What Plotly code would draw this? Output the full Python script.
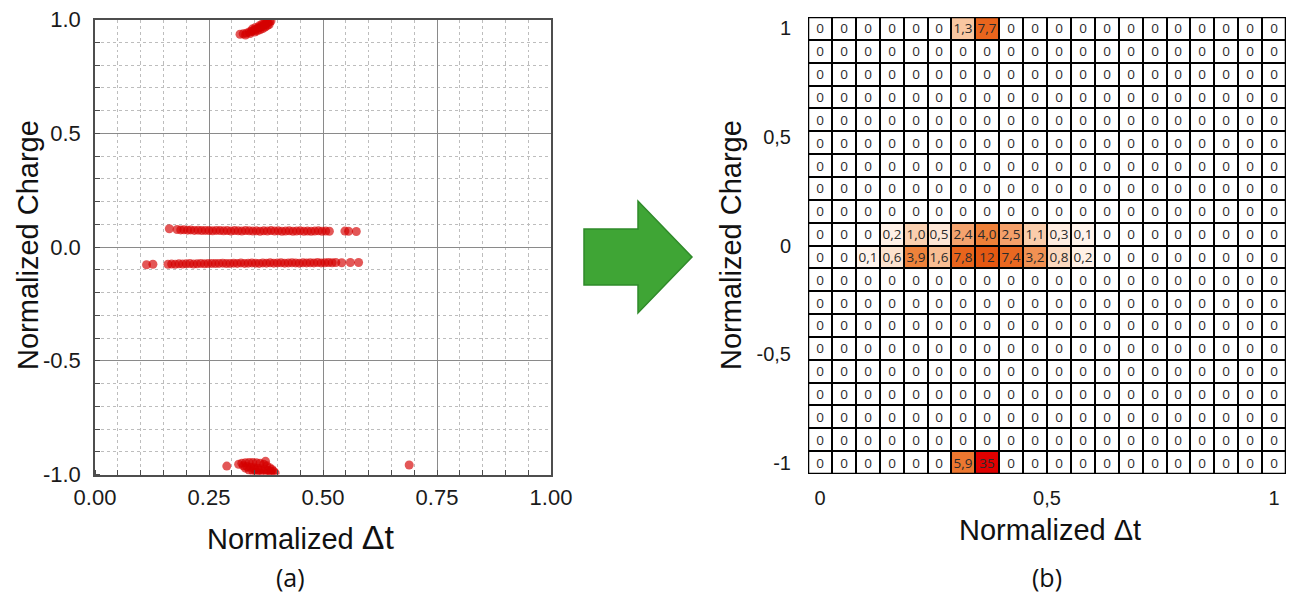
import numpy as np
import plotly.graph_objects as go

# ---------------- data: panel (a) scatter ----------------
top_dt = [0.318, 0.325, 0.332, 0.338, 0.343, 0.348, 0.353, 0.358, 0.362, 0.367, 0.371, 0.375, 0.379, 0.383, 0.386,
          0.340, 0.350, 0.356, 0.362, 0.368, 0.373, 0.378, 0.382, 0.345, 0.352, 0.360, 0.366, 0.372, 0.377, 0.330]
top_q = [0.935, 0.937, 0.940, 0.945, 0.948, 0.952, 0.957, 0.962, 0.966, 0.971, 0.976, 0.980, 0.985, 0.990, 0.993,
         0.938, 0.945, 0.950, 0.955, 0.960, 0.967, 0.973, 0.978, 0.958, 0.965, 0.972, 0.979, 0.985, 0.990, 0.932]

upper_dt = [0.163, 0.180, 0.188, 0.195, 0.203, 0.210, 0.218, 0.226, 0.234, 0.242, 0.250, 0.258, 0.266, 0.274,
            0.282, 0.290, 0.298, 0.306, 0.314, 0.322, 0.330, 0.338, 0.346, 0.354, 0.362, 0.370, 0.378, 0.386,
            0.394, 0.402, 0.410, 0.418, 0.426, 0.434, 0.442, 0.450, 0.458, 0.466, 0.474, 0.482, 0.490, 0.498,
            0.506, 0.514, 0.548, 0.556, 0.573]
upper_q = [0.080, 0.077, 0.075, 0.076, 0.074, 0.075, 0.073, 0.074, 0.072, 0.073, 0.072, 0.071, 0.073, 0.072,
           0.071, 0.072, 0.070, 0.072, 0.071, 0.070, 0.072, 0.071, 0.070, 0.071, 0.069, 0.071, 0.070, 0.072,
           0.070, 0.071, 0.069, 0.070, 0.071, 0.069, 0.070, 0.071, 0.069, 0.070, 0.069, 0.070, 0.071, 0.069,
           0.070, 0.069, 0.070, 0.069, 0.068]

lower_dt = [0.113, 0.127, 0.160, 0.168, 0.176, 0.184, 0.192, 0.200, 0.208, 0.216, 0.224, 0.232, 0.240,
            0.248, 0.256, 0.264, 0.272, 0.280, 0.288, 0.296, 0.304, 0.312, 0.320, 0.328, 0.336, 0.344,
            0.352, 0.360, 0.368, 0.376, 0.384, 0.392, 0.400, 0.408, 0.416, 0.424, 0.432, 0.440, 0.448,
            0.456, 0.464, 0.472, 0.480, 0.488, 0.496, 0.504, 0.512, 0.520, 0.528, 0.541, 0.560, 0.578]
lower_q = [-0.078, -0.076, -0.076, -0.075, -0.076, -0.074, -0.075, -0.074, -0.073, -0.075, -0.074, -0.072, -0.074,
           -0.073, -0.072, -0.073, -0.072, -0.071, -0.073, -0.072, -0.071, -0.072, -0.070, -0.072, -0.071, -0.070,
           -0.071, -0.072, -0.070, -0.071, -0.069, -0.071, -0.070, -0.069, -0.071, -0.070, -0.069, -0.070, -0.071,
           -0.069, -0.070, -0.069, -0.070, -0.068, -0.070, -0.069, -0.068, -0.069, -0.068, -0.069, -0.068, -0.068]

bottom_dt = [0.315, 0.322, 0.330, 0.338, 0.346, 0.354, 0.362, 0.370, 0.377, 0.383, 0.388, 0.392, 0.395,
             0.325, 0.333, 0.341, 0.349, 0.357, 0.365, 0.373, 0.380, 0.386, 0.338, 0.346, 0.354, 0.362,
             0.370, 0.378, 0.386, 0.350, 0.360, 0.330, 0.289, 0.374, 0.689]
bottom_q = [-0.955, -0.950, -0.948, -0.947, -0.947, -0.948, -0.950, -0.955, -0.962, -0.970, -0.978, -0.986, -0.993,
            -0.962, -0.965, -0.968, -0.970, -0.972, -0.975, -0.978, -0.982, -0.988, -0.980, -0.985, -0.990, -0.992,
            -0.995, -0.996, -0.997, -0.978, -0.982, -0.972, -0.963, -0.942, -0.958]

# ---------------- data: panel (b) heatmap ----------------
ZERO_ROW = [0] * 20
heat_rows = [
    [0, 0, 0, 0, 0, 0, 1.3, 7.7, 0, 0, 0, 0, 0, 0, 0, 0, 0, 0, 0, 0],
    ZERO_ROW, ZERO_ROW, ZERO_ROW, ZERO_ROW, ZERO_ROW, ZERO_ROW, ZERO_ROW, ZERO_ROW,
    [0, 0, 0, 0.2, 1.0, 0.5, 2.4, 4.0, 2.5, 1.1, 0.3, 0.1, 0, 0, 0, 0, 0, 0, 0, 0],
    [0, 0, 0.1, 0.6, 3.9, 1.6, 7.8, 12, 7.4, 3.2, 0.8, 0.2, 0, 0, 0, 0, 0, 0, 0, 0],
    ZERO_ROW, ZERO_ROW, ZERO_ROW, ZERO_ROW, ZERO_ROW, ZERO_ROW, ZERO_ROW, ZERO_ROW,
    [0, 0, 0, 0, 0, 0, 5.9, 35, 0, 0, 0, 0, 0, 0, 0, 0, 0, 0, 0, 0],
]
x_ticks_b = [0, 0.5, 1]
x_ticklabels_b = ["0", "0,5", "1"]
y_ticks_b = [-1, -0.5, 0, 0.5, 1]
y_ticklabels_b = ["-1", "-0,5", "0", "0,5", "1"]

x_ticks_a = [0, 0.25, 0.5, 0.75, 1]
x_ticklabels_a = ["0.00", "0.25", "0.50", "0.75", "1.00"]
y_ticks_a = [-1, -0.5, 0, 0.5, 1]
y_ticklabels_a = ["-1.0", "-0.5", "0.0", "0.5", "1.0"]


def fmt(v):
    if v == 0:
        return "0"
    if v >= 10:
        return str(int(v))
    return f"{v:.1f}".replace(".", ",")


heat_text = [[fmt(v) for v in row] for row in heat_rows]
n = len(heat_rows)
x_centers = np.linspace(0, 1, n)
y_centers = np.linspace(1, -1, n)

W, H = 1289, 595


def px(x):
    return x / W


def py(y):
    return 1 - y / H


fig = go.Figure()

red = "rgba(212,0,0,0.66)"
for xs, ys in [(top_dt, top_q), (upper_dt, upper_q), (lower_dt, lower_q), (bottom_dt, bottom_q)]:
    fig.add_trace(go.Scatter(x=xs, y=ys, mode="markers", xaxis="x", yaxis="y",
                             marker=dict(color=red, size=9, line=dict(width=0)),
                             showlegend=False, hoverinfo="skip"))

colorscale = [
    [0.0, "#ffffff"],
    [0.1 / 35, "#fff4ec"],
    [0.5 / 35, "#fde6d6"],
    [1.0 / 35, "#fad0b0"],
    [1.6 / 35, "#f8bd92"],
    [2.5 / 35, "#f4a06a"],
    [4.0 / 35, "#ee8038"],
    [6.0 / 35, "#ec7630"],
    [8.0 / 35, "#e8621a"],
    [12.0 / 35, "#e45812"],
    [1.0, "#e00000"],
]

fig.add_trace(go.Heatmap(
    z=heat_rows, x=x_centers, y=y_centers, text=heat_text, texttemplate="%{text}",
    textfont=dict(family="Open Sans, Liberation Sans, Arial", size=13.5, color="#2b2b2b"),
    colorscale=colorscale, zmin=0, zmax=35, showscale=False, xgap=2, ygap=2,
    xaxis="x2", yaxis="y2", hoverinfo="skip"))

dx = 0.5 / (n - 1)
dy = 1.0 / (n - 1)

axis_font_a = dict(family="Liberation Sans, Arial", size=22, color="#1a1a1a")
axis_font_b = dict(family="Liberation Sans, Arial", size=20, color="#1a1a1a")

fig.update_layout(
    width=W, height=H, margin=dict(l=0, r=0, t=0, b=0, autoexpand=False),
    paper_bgcolor="white", plot_bgcolor="white",
    xaxis=dict(domain=[px(95), px(551)], range=[0, 1], tickvals=x_ticks_a, ticktext=x_ticklabels_a,
               showgrid=True, gridcolor="#8a8a8a", gridwidth=1, zeroline=False,
               showline=True, linecolor="#4d4d4d", linewidth=1.5, mirror=True,
               ticks="", tickfont=axis_font_a, ticklabelstandoff=2, automargin=False,
               minor=dict(dtick=0.05, tick0=0, showgrid=True, griddash="dot", gridcolor="#bdbdbd",
                          gridwidth=1, ticks="inside", ticklen=5, tickcolor="#4d4d4d")),
    yaxis=dict(domain=[py(474.5), py(19.5)], range=[-1, 1], tickvals=y_ticks_a, ticktext=y_ticklabels_a,
               showgrid=True, gridcolor="#8a8a8a", gridwidth=1, zeroline=False,
               showline=True, linecolor="#4d4d4d", linewidth=1.5, mirror=True,
               ticks="", tickfont=axis_font_a, ticklabelstandoff=8, automargin=False,
               minor=dict(dtick=0.1, tick0=0, showgrid=True, griddash="dot", gridcolor="#bdbdbd",
                          gridwidth=1, ticks="inside", ticklen=5, tickcolor="#4d4d4d")),
    xaxis2=dict(domain=[px(808), px(1286)], range=[-dx, 1 + dx], tickvals=x_ticks_b, ticktext=x_ticklabels_b,
                showgrid=False, zeroline=False, showline=False, ticks="", tickfont=axis_font_b,
                ticklabelstandoff=10, anchor="y2", automargin=False),
    yaxis2=dict(domain=[py(474), py(17)], range=[-1 - dy, 1 + dy], tickvals=y_ticks_b, ticktext=y_ticklabels_b,
                showgrid=False, zeroline=False, showline=False, ticks="", tickfont=axis_font_b,
                ticklabelstandoff=16, anchor="x2", automargin=False),
)

# black background behind heatmap cells -> cell borders, plus thick outer frame
fig.add_shape(type="rect", xref="x2", yref="y2", x0=-dx, x1=1 + dx, y0=-1 - dy, y1=1 + dy,
              fillcolor="black", line=dict(width=0), layer="below")
fig.add_shape(type="rect", xref="x2", yref="y2", x0=-dx, x1=1 + dx, y0=-1 - dy, y1=1 + dy,
              fillcolor="rgba(0,0,0,0)", line=dict(color="black", width=2.5), layer="above")

# green arrow
arrow_px = [(584, 229), (638, 229), (638, 201), (692, 257), (638, 313), (638, 285), (584, 285)]
path = "M " + " L ".join(f"{px(x):.5f},{py(y):.5f}" for x, y in arrow_px) + " Z"
fig.add_shape(type="path", xref="paper", yref="paper", path=path,
              fillcolor="#3fa535", line=dict(color="#2f8a2a", width=1.5))

title_font = dict(family="Liberation Sans, Arial", size=29, color="#111111")
ann = [
    dict(x=px(28), y=py(245), text="Normalized Charge", textangle=-90, font=title_font),
    dict(x=px(300), y=py(537), text="Normalized <span style='font-size:34px'>Δt</span>", font=title_font),
    dict(x=px(290), y=py(577), text="(a)", font=dict(family="Open Sans, Liberation Sans", size=25, color="#111111")),
    dict(x=px(731), y=py(245), text="Normalized Charge", textangle=-90, font=title_font),
    dict(x=px(1050), y=py(530), text="Normalized Δt", font=title_font),
    dict(x=px(1047), y=py(577), text="(b)", font=dict(family="Open Sans, Liberation Sans", size=25, color="#111111")),
]
for a in ann:
    fig.add_annotation(xref="paper", yref="paper", showarrow=False, xanchor="center", yanchor="middle", **a)

fig.write_html("out.html", config={"responsive": False, "displayModeBar": False},
               post_script="document.body.style.margin='0';document.body.style.overflow='hidden';")
